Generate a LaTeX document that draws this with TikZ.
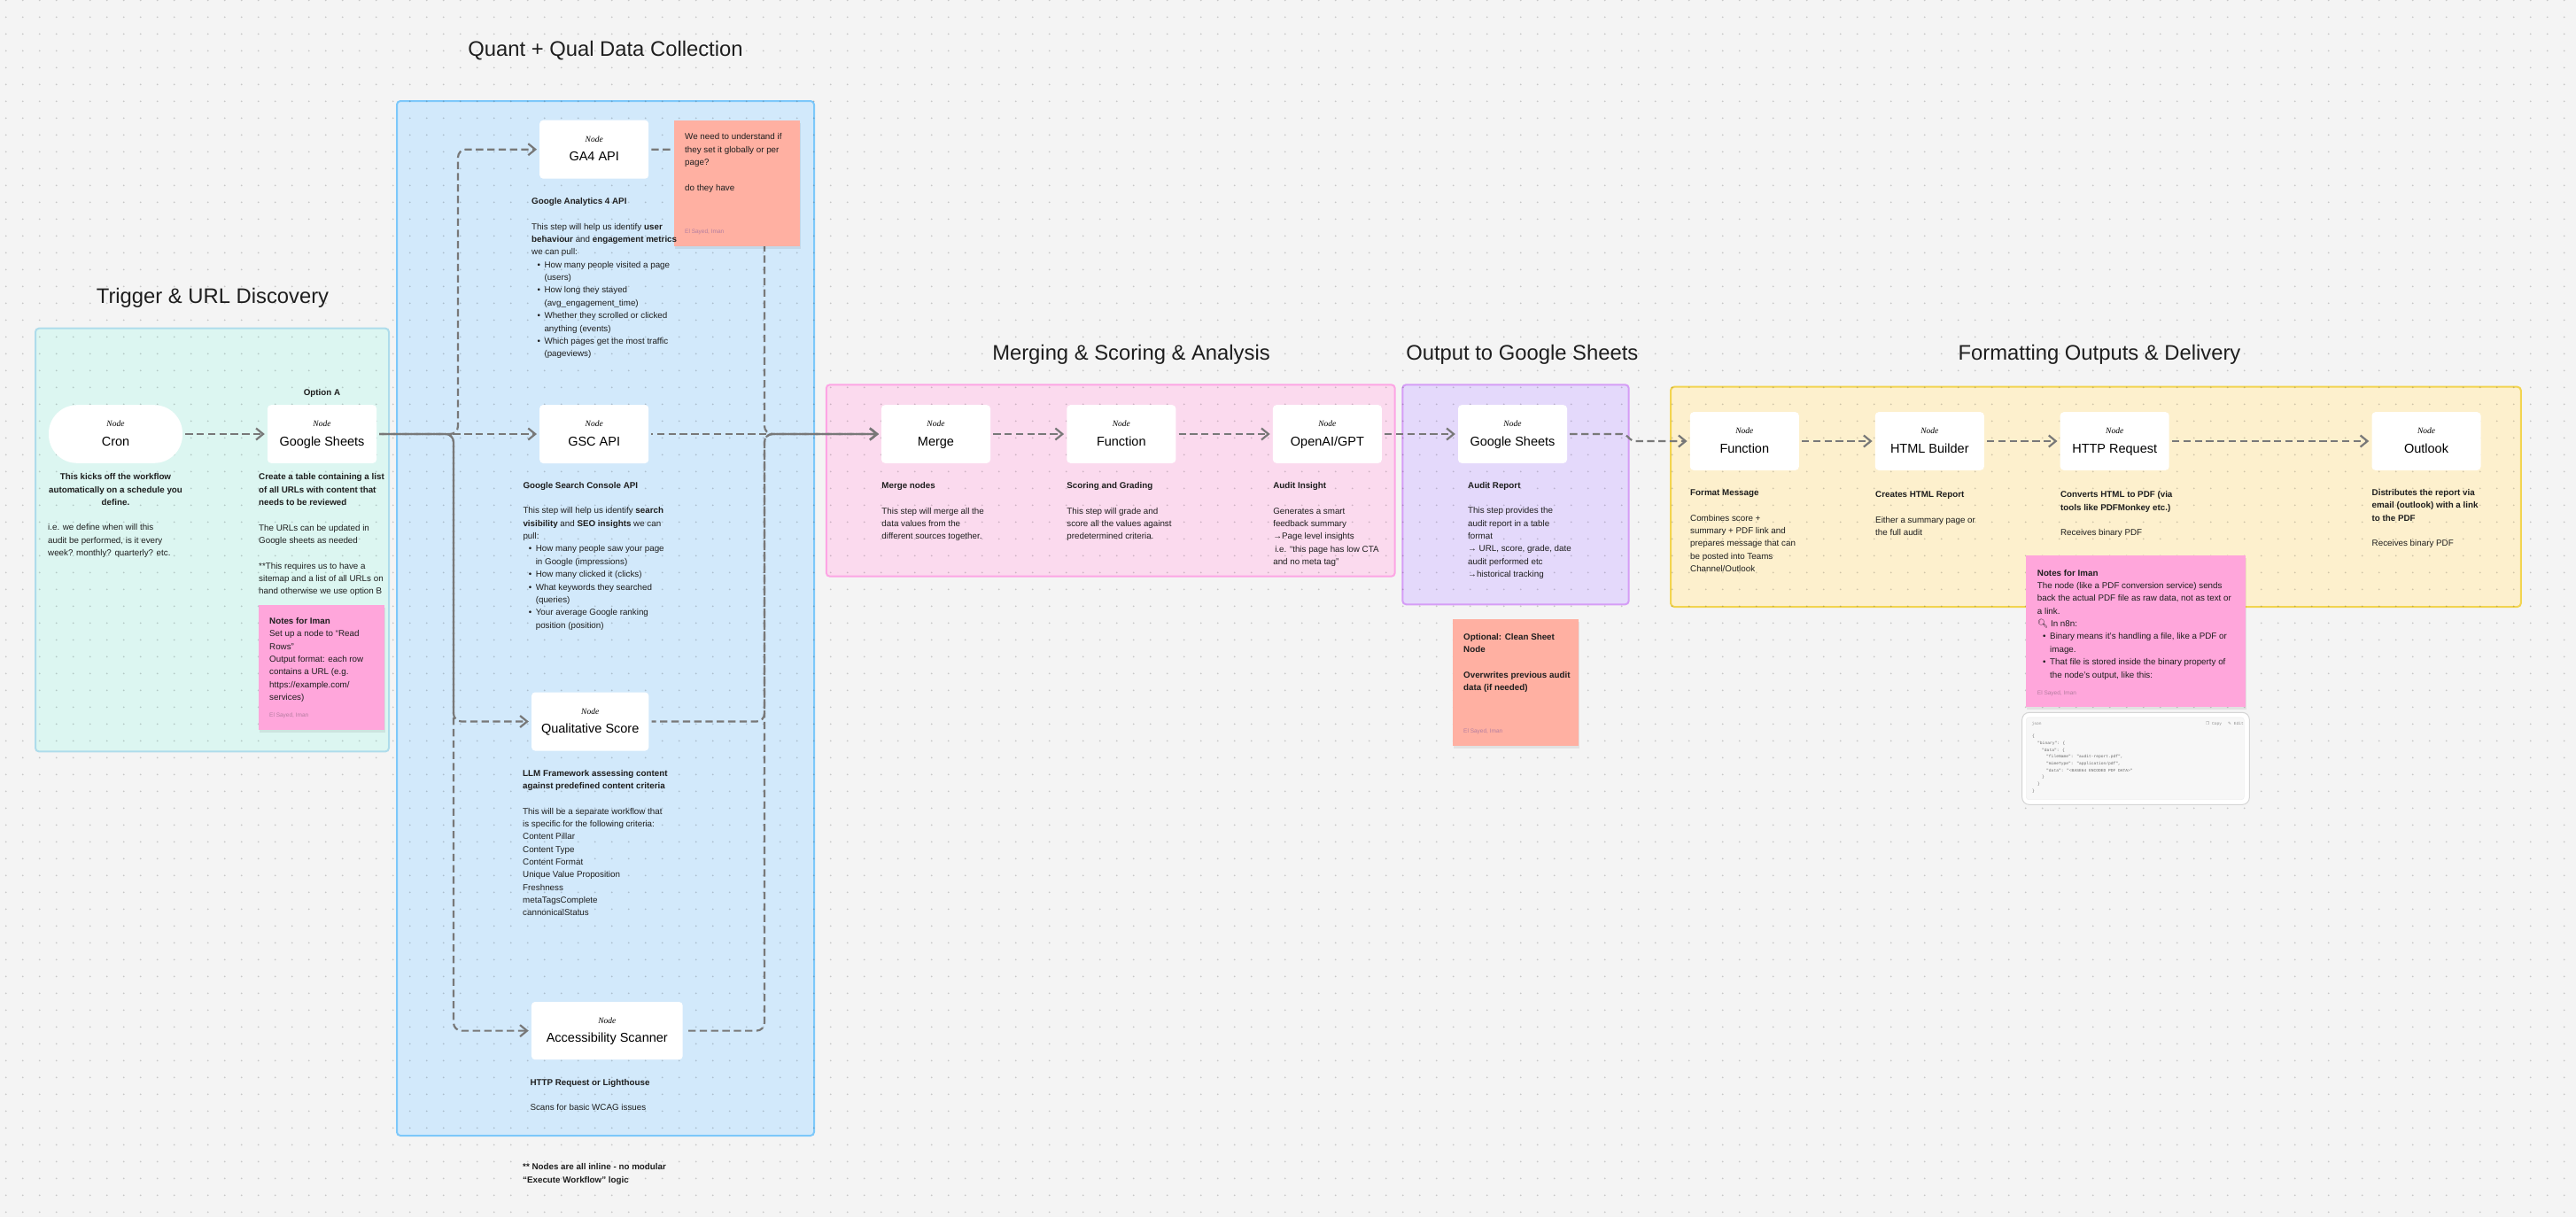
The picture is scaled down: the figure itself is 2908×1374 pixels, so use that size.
\documentclass[tikz,border=0pt]{standalone}
\usepackage{fontspec}
\setmainfont{Liberation Sans}
\newfontfamily\tagfamily{Liberation Serif}
\newfontfamily\codefamily{Liberation Mono}
\newfontfamily\emojifont{Noto Emoji}
\newfontfamily\symfont{DejaVu Sans}
\usetikzlibrary{arrows.meta}
\definecolor{bgc}{HTML}{F4F4F4}
\definecolor{txt}{HTML}{1E1E1E}
\definecolor{conncol}{HTML}{787878}
\definecolor{trigF}{HTML}{DCF6F1}
\definecolor{trigB}{HTML}{AEDCEB}
\definecolor{quantF}{HTML}{D2E9FB}
\definecolor{quantB}{HTML}{7DC8FA}
\definecolor{mergeF}{HTML}{FBDAEE}
\definecolor{mergeB}{HTML}{FDA5E4}
\definecolor{outF}{HTML}{E4D9FB}
\definecolor{outB}{HTML}{D59DF6}
\definecolor{fmtF}{HTML}{FDF0CD}
\definecolor{fmtB}{HTML}{F2D450}
\definecolor{pinkN}{HTML}{FFA6DB}
\definecolor{salN}{HTML}{FFB0A2}
\definecolor{signc}{HTML}{B47DA0}
\definecolor{codeF}{HTML}{F7F7F7}
\definecolor{codeB}{HTML}{D4D4D4}
\definecolor{codeT}{HTML}{666666}
\newcommand\bodyf{\fontsize{9.8pt}{14.35pt}\selectfont}
\newcommand\titlef{\fontsize{23.8pt}{28pt}\selectfont}
\newcommand\lblf{\fontsize{14.5pt}{17pt}\selectfont}
\newcommand\tagf{\tagfamily\itshape\fontsize{9.5pt}{11pt}\selectfont}
\newcommand\signf{\fontsize{6.5pt}{8pt}\selectfont}
\newcommand\codef{\codefamily\fontsize{4.6pt}{7.7pt}\selectfont}
\newcommand\nodetxt[1]{\raisebox{0pt}[0pt][0pt]{\makebox[0pt]{\raisebox{8.5pt}{\tagf Node}}}\raisebox{0pt}[0pt][0pt]{\makebox[0pt]{\raisebox{-13.2pt}{\lblf #1}}}}
\newcommand\pb[1]{\parbox[t]{420pt}{\raggedright #1}}
\newcommand\pskip{\\[14.35pt]}
\newcommand\bul{\hspace*{6.3pt}\makebox[8pt][l]{•}}
\newcommand\bcont{\hspace*{14.3pt}}
\begin{document}
\begin{tikzpicture}[x=1pt,y=-1pt,
  panel/.style={line width=2pt, rounded corners=4pt},
  nbox/.style={fill=white, rounded corners=4pt, minimum width=123pt, minimum height=65.6pt, inner sep=0pt},
  sticky/.style={inner sep=0pt},
  body/.style={anchor=base west, inner sep=0pt, font=\bodyf, text=txt},
  title/.style={inner sep=0pt, font=\titlef, text=txt},
  sign/.style={anchor=base west, inner sep=0pt, font=\signf, text=signc},
  code/.style={anchor=base west, inner sep=0pt, font=\codef, text=codeT},
  conn/.style={draw=conncol, line width=2.2pt, dash pattern=on 8.3pt off 4.5pt, -{Straight Barb[length=8pt,width=13pt]}, shorten >=3pt, shorten <=3pt},
  shadowc/.style={fill=black, fill opacity=0.07}
]
\useasboundingbox (0,0) rectangle (2908,1374);
\fill[bgc] (0,0) rectangle (2908,1374);

% panels
\draw[panel, draw=trigB, fill=trigF] (40,370.7) rectangle (439,848.4);
\draw[panel, draw=quantB, fill=quantF] (448,114) rectangle (919,1282);
\draw[panel, draw=mergeB, fill=mergeF] (932.8,434.3) rectangle (1574.7,650.7);
\draw[panel, draw=outB, fill=outF] (1583.3,434.3) rectangle (1838.7,682.3);
\draw[panel, draw=fmtB, fill=fmtF] (1886,436.7) rectangle (2845.8,685);

% dot grid
\foreach \i in {0,...,72}
  \draw[draw=black, draw opacity=0.18, line width=2pt, line cap=round, dash pattern=on 0pt off 19pt] (6.7,{0.3+19*\i}) -- (2908,{0.3+19*\i});

% titles
\node[title] (t1) at (240,336.3) {Trigger \& URL Discovery};
\node[title] (t2) at (683.5,57.5) {Quant + Qual Data Collection};
\node[title] (t3) at (1277,400.7) {Merging \& Scoring \& Analysis};
\node[title] (t4) at (1718.3,400.7) {Output to Google Sheets};
\node[title] (t5) at (2370,400.7) {Formatting Outputs \& Delivery};

% nodes
\node[nbox, minimum width=151pt, rounded corners=32pt] (cron) at (130.5,490) {\nodetxt{Cron}};
\node[nbox] (gs1) at (363.5,490) {\nodetxt{Google Sheets}};
\node[nbox, minimum height=66pt] (ga4) at (670.7,168.7) {\nodetxt{GA4 API}};
\node[nbox, minimum height=66pt] (gsc) at (670.7,490) {\nodetxt{GSC API}};
\node[nbox, minimum width=132.3pt, minimum height=66pt] (qual) at (666.2,814.5) {\nodetxt{Qualitative Score}};
\node[nbox, minimum width=170.7pt, minimum height=65.2pt] (acc) at (685.3,1163.6) {\nodetxt{Accessibility Scanner}};
\node[nbox] (merge) at (1056.5,490) {\nodetxt{Merge}};
\node[nbox] (func1) at (1265.8,490) {\nodetxt{Function}};
\node[nbox] (gpt) at (1498.4,490) {\nodetxt{OpenAI/GPT}};
\node[nbox] (gs2) at (1707.5,490) {\nodetxt{Google Sheets}};
\node[nbox] (func2) at (1969.3,498) {\nodetxt{Function}};
\node[nbox] (html) at (2178.3,498) {\nodetxt{HTML Builder}};
\node[nbox] (http) at (2387.2,498) {\nodetxt{HTTP Request}};
\node[nbox] (outlook) at (2739,498) {\nodetxt{Outlook}};

% connectors
\draw[conn] (cron.east) -- (gs1.west);
\draw[conn, rounded corners=9pt] (gs1.east) -| (517,168.7) -- (ga4.west);
\draw[conn, dash phase=6.4pt] (gs1.east) -- (gsc.west);
\draw[conn, rounded corners=9pt, dash phase=3.2pt] (gs1.east) -| (512,814.5) -- (qual.west);
\draw[conn, rounded corners=9pt, dash phase=9.6pt] (gs1.east) -| (512,1163.6) -- (acc.west);
\draw[conn, rounded corners=9pt] (ga4.east) -| (863,490) -- (merge.west);
\draw[conn, dash phase=6.4pt] (gsc.east) -- (merge.west);
\draw[conn, rounded corners=9pt, dash phase=3.2pt] (qual.east) -| (863,490) -- (merge.west);
\draw[conn, rounded corners=9pt, dash phase=9.6pt] (acc.east) -| (863,490) -- (merge.west);
\draw[conn] (merge.east) -- (func1.west);
\draw[conn] (func1.east) -- (gpt.west);
\draw[conn] (gpt.east) -- (gs2.west);
\draw[conn, rounded corners=4pt] (gs2.east) -- (1835,490) -- (1842,498) -- (func2.west);
\draw[conn] (func2.east) -- (html.west);
\draw[conn] (html.east) -- (http.west);
\draw[conn] (http.east) -- (outlook.west);

% sticky notes
\fill[shadowc] (293,685.5) rectangle (435,826.9);
\node[sticky, fill=pinkN, minimum width=142pt, minimum height=141.4pt] (note1) at (363,753.2) {};
\fill[shadowc] (762,139) rectangle (904.3,280.7);
\node[sticky, fill=salN, minimum width=142.3pt, minimum height=141.7pt] (note2) at (832.2,206.9) {};
\fill[shadowc] (1641,702.3) rectangle (1783.3,844.7);
\node[sticky, fill=salN, minimum width=142.3pt, minimum height=142.4pt] (note3) at (1711.2,770.5) {};
\fill[shadowc] (2288.3,630.3) rectangle (2535.7,801.3);
\node[sticky, fill=pinkN, minimum width=247.4pt, minimum height=171pt] (note4) at (2411,712.8) {};

% code block
\node[fill=white, draw=codeB, line width=1pt, rounded corners=8pt, minimum width=256.6pt, minimum height=104pt, inner sep=0pt] (codebox) at (2411,856.3) {};
\node[fill=codeF, draw=black!6, line width=0.6pt, rounded corners=3pt, minimum width=246pt, minimum height=92.7pt, inner sep=0pt] (codein) at (2410.3,856.3) {};
\node[code, text=black!45] (cj) at (2293.3,818.5) {json};
\node[code, text=black!45] (cc) at (2490,818.5) {{\symfont\fontsize{4.6pt}{5pt}\selectfont ❐} Copy};
\node[code, text=black!45] (ce) at (2515,818.5) {{\symfont\fontsize{4.6pt}{5pt}\selectfont ✎} Edit};
\node[code] (c1) at (2294,832.7) {\{};
\node[code] (c2) at (2300,840.4) {"binary": \{};
\node[code] (c3) at (2305,848.1) {"data": \{};
\node[code] (c4) at (2310,855.8) {"fileName": "audit-report.pdf",};
\node[code] (c5) at (2310,863.5) {"mimeType": "application/pdf",};
\node[code] (c6) at (2310,871.2) {"data": "<BASE64 ENCODED PDF DATA>"};
\node[code] (c7) at (2305,878.9) {\}};
\node[code] (c8) at (2300,886.6) {\}};
\node[code] (c9) at (2294,894.3) {\}};

% trigger texts
\node[body, anchor=center, font=\bodyf\bfseries] (opta) at (363.5,443.6) {Option A};
\node[body, anchor=base] (crontxt) at (130.5,541.8) {\parbox[t]{180pt}{\centering\bfseries This kicks off the workflow\\automatically on a schedule you\\define.}};
\node[body] (crontxt2) at (54,598.9) {\pb{i.e. we define when will this\\audit be performed, is it every\\week? monthly? quarterly? etc.}};
\node[body] (gs1txt) at (292,541.8) {\pb{\textbf{Create a table containing a list}\\\textbf{of all URLs with content that}\\\textbf{needs to be reviewed}\pskip The URLs can be updated in\\Google sheets as needed\pskip **This requires us to have a\\sitemap and a list of all URLs on\\hand otherwise we use option B}};
\node[body] (n1txt) at (304,704.5) {\pb{\textbf{Notes for Iman}\\Set up a node to “Read\\Rows”\\Output format: each row\\contains a URL (e.g.\\https://example.com/\\services)}};
\node[sign] (n1s) at (304,809.7) {El Sayed, Iman};

% quant texts
\node[body] (ga4txt) at (600,230.5) {\pb{\textbf{Google Analytics 4 API}\pskip This step will help us identify \textbf{user}\\\textbf{behaviour} and \textbf{engagement metrics}\\we can pull:\\\bul How many people visited a page\\\bcont(users)\\\bul How long they stayed\\\bcont(avg\_engagement\_time)\\\bul Whether they scrolled or clicked\\\bcont anything (events)\\\bul Which pages get the most traffic\\\bcont(pageviews)}};
\node[body] (n2txt) at (773,157.8) {\pb{We need to understand if\\they set it globally or per\\page?\pskip do they have}};
\node[sign] (n2s) at (773,263.6) {El Sayed, Iman};
\node[body] (gsctxt) at (590.3,551.2) {\pb{\textbf{Google Search Console API}\pskip This step will help us identify \textbf{search}\\\textbf{visibility} and \textbf{SEO insights} we can\\pull:\\\bul How many people saw your page\\\bcont in Google (impressions)\\\bul How many clicked it (clicks)\\\bul What keywords they searched\\\bcont(queries)\\\bul Your average Google ranking\\\bcont position (position)}};
\node[body] (qualtxt) at (590,876) {\pb{\textbf{LLM Framework assessing content}\\\textbf{against predefined content criteria}\pskip This will be a separate workflow that\\is specific for the following criteria:\\Content Pillar\\Content Type\\Content Format\\Unique Value Proposition\\Freshness\\metaTagsComplete\\cannonicalStatus}};
\node[body] (acctxt) at (598.3,1225.2) {\pb{\textbf{HTTP Request or Lighthouse}\pskip Scans for basic WCAG issues}};
\node[body] (foot) at (590,1320.7) {\pb{\bfseries ** Nodes are all inline - no modular\\“Execute Workflow” logic}};

% merge texts
\node[body] (mergetxt) at (995.2,551.5) {\pb{\textbf{Merge nodes}\pskip This step will merge all the\\data values from the\\different sources together.}};
\node[body] (func1txt) at (1204.2,551.5) {\pb{\textbf{Scoring and Grading}\pskip This step will grade and\\score all the values against\\predetermined criteria.}};
\node[body] (gpttxt) at (1437.1,551.5) {\pb{\textbf{Audit Insight}\pskip Generates a smart\\feedback summary\\→Page level insights\\\hspace*{2pt}i.e. “this page has low CTA\\and no meta tag”}};

% output texts
\node[body] (gs2txt) at (1657,551.2) {\pb{\textbf{Audit Report}\pskip This step provides the\\audit report in a table\\format\\→ URL, score, grade, date\\audit performed etc\\→historical tracking}};
\node[body] (n3txt) at (1652,722.2) {\pb{\bfseries Optional: Clean Sheet\\Node\pskip Overwrites previous audit\\data (if needed)}};
\node[sign] (n3s) at (1652,827.3) {El Sayed, Iman};

% formatting texts
\node[body] (func2txt) at (1908,559.5) {\pb{\textbf{Format Message}\pskip Combines score +\\summary + PDF link and\\prepares message that can\\be posted into Teams\\Channel/Outlook}};
\node[body] (htmltxt) at (2117,561.8) {\pb{\textbf{Creates HTML Report}\pskip Either a summary page or\\the full audit}};
\node[body] (httptxt) at (2325.9,561.8) {\pb{\textbf{Converts HTML to PDF (via}\\\textbf{tools like PDFMonkey etc.)}\pskip Receives binary PDF}};
\node[body] (outtxt) at (2677.5,559.5) {\pb{\textbf{Distributes the report via}\\\textbf{email (outlook) with a link}\\\textbf{to the PDF}\pskip Receives binary PDF}};
\node[body] (n4txt) at (2299.7,650.2) {\pb{\textbf{Notes for Iman}\\The node (like a PDF conversion service) sends\\back the actual PDF file as raw data, not as text or\\a link.\\{\emojifont 🔍} In n8n:\\\bul Binary means it’s handling a file, like a PDF or\\\bcont image.\\\bul That file is stored inside the binary property of\\\bcont the node’s output, like this:}};
\node[sign] (n4s) at (2299.7,784.5) {El Sayed, Iman};
\end{tikzpicture}
\end{document}
